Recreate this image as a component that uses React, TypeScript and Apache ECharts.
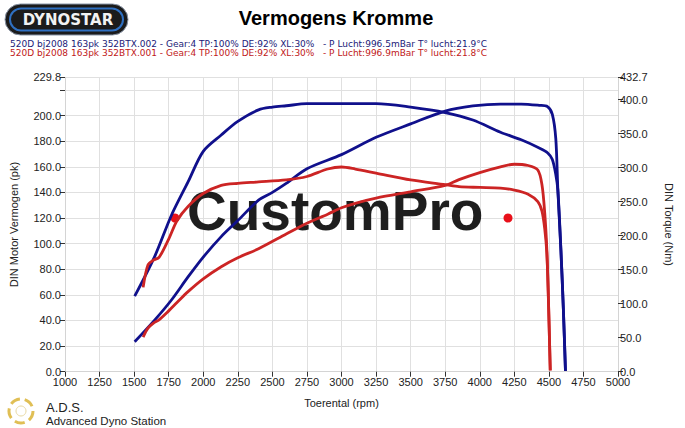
import React, { useEffect, useRef } from "react";
import * as echarts from "echarts";

// ---- data ----
const blueRpm = [1504, 1650, 1770, 1890, 2000, 2130, 2250, 2400, 2500, 2600, 2750, 3000, 3250, 3500, 3750, 3950, 4150, 4300, 4430, 4490, 4525, 4550, 4565, 4587, 4605, 4620];
const bluePower = [23.4, 40.5, 56, 74, 89.5, 105.5, 118, 134, 140, 147, 158.5, 169.5, 183, 193.5, 203.5, 207.5, 209, 209, 208, 207, 201, 182, 142, 95, 48, 0.5];
const blueTorque = [111, 170, 230, 279, 324, 348, 368, 385, 389, 391, 394, 394, 394, 389, 381, 370, 352, 341, 329, 322, 312, 290, 267, 179, 91, 1];

const redRpm = [1565, 1600, 1640, 1680, 1750, 1810, 1890, 2000, 2130, 2250, 2400, 2600, 2750, 2900, 3000, 3100, 3250, 3500, 3750, 3850, 4000, 4150, 4250, 4350, 4420, 4450, 4470, 4485, 4495, 4510];
const redPower = [27, 34, 38, 40.5, 47.5, 54, 62.5, 72.5, 82, 89, 96, 107.5, 116, 123, 128, 131.5, 135.5, 140.5, 145.5, 150, 155.5, 160, 162, 161, 157.5, 146, 124, 96, 63, 1];
const redTorque = [124, 157, 164, 168, 195, 222, 243, 262, 274, 277, 279, 282, 287, 298, 301, 298, 292, 282, 275, 272, 271, 270, 267, 261, 250, 236, 210, 175, 120, 2];

const xMin = 1000;
const xMax = 5000;
const xStep = 250;
const powerMax = 229.8;
const powerStep = 20;
const torqueMax = 432.7;
const torqueStep = 50;

const titleText = "Vermogens Kromme";
const runBlueText = "520D bj2008 163pk 352BTX.002 - Gear:4 TP:100% DE:92% XL:30%\u00a0\u00a0\u00a0- P Lucht:996.5mBar T\u00b0 lucht:21.9\u00b0C";
const runRedText = "520D bj2008 163pk 352BTX.001 - Gear:4 TP:100% DE:92% XL:30%\u00a0\u00a0\u00a0- P Lucht:996.9mBar T\u00b0 lucht:21.8\u00b0C";

const BLUE = "#10108c";
const RED = "#cc2424";
const FONT = '"Liberation Sans", Arial, sans-serif';
const SMALL_FONT = '"DejaVu Sans", Tahoma, sans-serif';

const pairs = (xs: number[], ys: number[]) => xs.map((x, i) => [x, ys[i]]);

export default function App() {
  const ref = useRef<HTMLDivElement>(null);
  useEffect(() => {
    if (!ref.current) return;
    const chart = echarts.init(ref.current, undefined, { renderer: "svg" });
    const labelStyle = { color: "#222", fontSize: 11, fontFamily: FONT };
    const adsArcs = [0, 1, 2, 3, 4].map((i) => ({
      type: "arc",
      z: 1,
      shape: { cx: 21, cy: 411, r: 12, startAngle: i * 1.2566, endAngle: i * 1.2566 + 0.85 },
      style: { stroke: "#e0bf55", lineWidth: 3, fill: "none" },
    }));
    const lineCommon = { type: "line", xAxisIndex: 0, showSymbol: false, smooth: 0.3 };
    chart.setOption({
      animation: false,
      backgroundColor: "#ffffff",
      grid: { left: 63, right: 67, top: 77.4, bottom: 56.3, containLabel: false },
      xAxis: {
        type: "value",
        min: xMin,
        max: xMax,
        interval: xStep,
        name: "Toerental (rpm)",
        nameLocation: "middle",
        nameGap: 26,
        nameTextStyle: { color: "#222", fontSize: 11, fontFamily: FONT },
        axisLine: { show: true, lineStyle: { color: "#d4d4d4", width: 1 } },
        axisTick: { show: true, length: 5, lineStyle: { color: "#333" } },
        axisLabel: { ...labelStyle, margin: 5, formatter: (v: number) => String(v) },
        splitLine: { show: true, lineStyle: { color: "#e0e0e0", width: 1 } },
      },
      yAxis: [
        {
          type: "value",
          min: 0,
          max: powerMax,
          interval: powerStep,
          position: "left",
          name: "DIN Motor Vermogen (pk)",
          nameLocation: "middle",
          nameGap: 46,
          nameTextStyle: { color: "#222", fontSize: 11, fontFamily: FONT },
          axisLine: { show: true, lineStyle: { color: "#d4d4d4" } },
          axisTick: { show: true, length: 5, lineStyle: { color: "#333" } },
          axisLabel: {
            ...labelStyle,
            margin: 4,
            showMaxLabel: true,
            showMinLabel: true,
            formatter: (v: number) => (v === 220 ? "" : v.toFixed(1)),
          },
          splitLine: { show: true, lineStyle: { color: "#e0e0e0", width: 1 } },
        },
        {
          type: "value",
          min: 0,
          max: torqueMax,
          interval: torqueStep,
          position: "right",
          name: "DIN Torque (Nm)",
          nameLocation: "middle",
          nameRotate: -90,
          nameGap: 45,
          nameTextStyle: { color: "#222", fontSize: 11, fontFamily: FONT },
          axisLine: { show: true, lineStyle: { color: "#d4d4d4" } },
          axisTick: { show: true, length: 5, lineStyle: { color: "#333" } },
          axisLabel: { ...labelStyle, margin: 2, showMaxLabel: true, formatter: (v: number) => v.toFixed(1) },
          splitLine: { show: false },
        },
      ],
      graphic: [
        // Dynostar logo
        { type: "rect", z: 1, shape: { x: 5, y: 4, width: 123, height: 31, r: 15.5 }, style: { fill: "#1b1b1b", stroke: "#8a96a8", lineWidth: 1 } },
        { type: "rect", z: 1, shape: { x: 10, y: 8.5, width: 113, height: 22, r: 11 }, style: { fill: "none", stroke: "#2f70c2", lineWidth: 2 } },
        { type: "text", z: 2, x: 68, y: 20, style: { text: "DYNOSTAR", fill: "#f2f2f2", font: 'bold 15px "DejaVu Sans", sans-serif', align: "center", verticalAlign: "middle" } },
        // title
        { type: "text", z: 2, x: 336, y: 18, style: { text: titleText, fill: "#000", font: `bold 20px ${FONT}`, align: "center", verticalAlign: "middle" } },
        // run descriptions
        { type: "text", z: 2, x: 10, y: 44, style: { text: runBlueText, fill: "#1a1a78", font: `9px ${SMALL_FONT}`, align: "left", verticalAlign: "middle" } },
        { type: "text", z: 2, x: 10, y: 53, style: { text: runRedText, fill: "#c01818", font: `9px ${SMALL_FONT}`, align: "left", verticalAlign: "middle" } },
        // CustomPro watermark (behind lines)
        { type: "text", z: 1, x: 187, y: 211, style: { text: "CustomPro", fill: "#1e1e1e", font: `bold 55px ${FONT}`, align: "left", verticalAlign: "middle" } },
        { type: "circle", z: 1, shape: { cx: 175, cy: 218, r: 4.5 }, style: { fill: "#e8101a" } },
        { type: "circle", z: 1, shape: { cx: 508, cy: 218, r: 4.5 }, style: { fill: "#e8101a" } },
        // ADS logo
        ...adsArcs,
        { type: "circle", z: 1, shape: { cx: 21, cy: 411, r: 5 }, style: { fill: "none", stroke: "#e8d8a0", lineWidth: 1 } },
        { type: "text", z: 2, x: 46, y: 407, style: { text: "A.D.S.", fill: "#222", font: `13px ${FONT}`, align: "left", verticalAlign: "middle" } },
        { type: "text", z: 2, x: 46, y: 421, style: { text: "Advanced Dyno Station", fill: "#222", font: `11.5px ${FONT}`, align: "left", verticalAlign: "middle" } },
      ],
      series: [
        { ...lineCommon, name: "Vermogen 002", yAxisIndex: 0, z: 5, data: pairs(blueRpm, bluePower), lineStyle: { color: BLUE, width: 2.8 }, itemStyle: { color: BLUE } },
        { ...lineCommon, name: "Torque 002", yAxisIndex: 1, z: 5, data: pairs(blueRpm, blueTorque), lineStyle: { color: BLUE, width: 2.8 }, itemStyle: { color: BLUE } },
        { ...lineCommon, name: "Vermogen 001", yAxisIndex: 0, z: 6, data: pairs(redRpm, redPower), lineStyle: { color: RED, width: 2.8 }, itemStyle: { color: RED } },
        { ...lineCommon, name: "Torque 001", yAxisIndex: 1, z: 6, data: pairs(redRpm, redTorque), lineStyle: { color: RED, width: 2.8 }, itemStyle: { color: RED } },
      ],
    });
    return () => chart.dispose();
  }, []);
  return (
    <div
      ref={ref}
      style={{ position: "fixed", left: 0, top: 0, width: 685, height: 428, background: "#fff" }}
    />
  );
}
